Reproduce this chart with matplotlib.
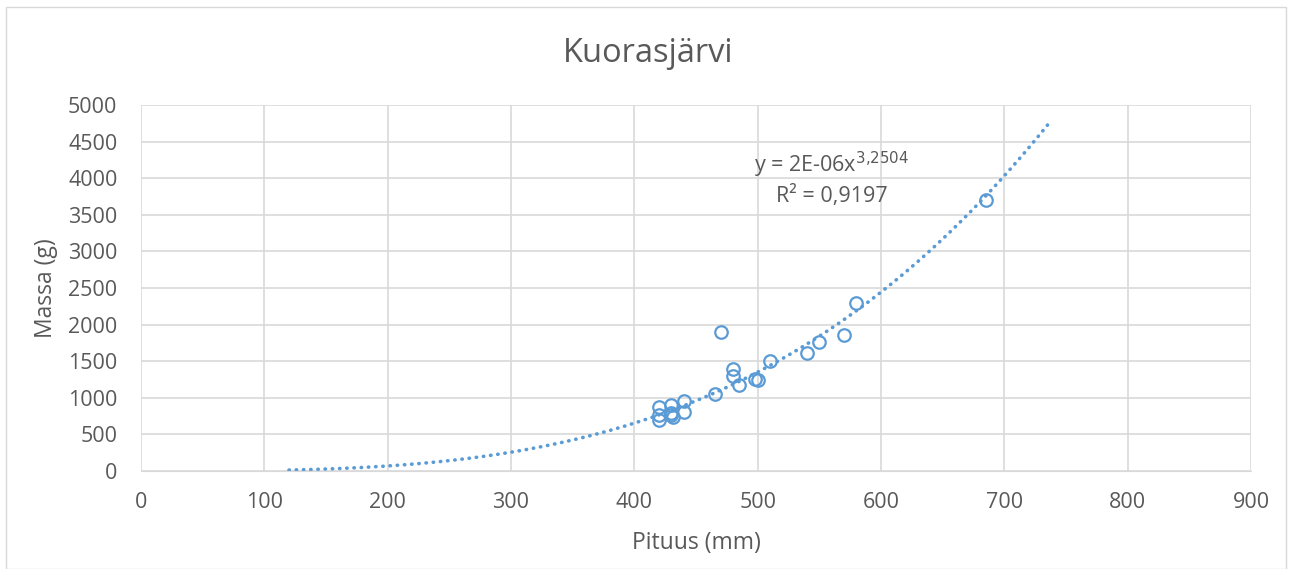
import numpy as np
import matplotlib
matplotlib.use("Agg")
import matplotlib.pyplot as plt
from matplotlib.patches import Rectangle

plt.rcParams['font.family'] = ['Open Sans', 'DejaVu Sans']

title = "Kuorasjärvi"
pituus = [470, 480, 480, 485, 498, 500, 510, 540, 550, 570, 580, 685,
          465, 440, 440, 430, 430, 431, 430, 420, 420, 420]
massa = [1900, 1400, 1300, 1170, 1260, 1250, 1500, 1610, 1760, 1860, 2300, 3700,
         1050, 955, 805, 900, 790, 740, 760, 870, 765, 700]
xticks = [0, 100, 200, 300, 400, 500, 600, 700, 800, 900]
yticks = [0, 500, 1000, 1500, 2000, 2500, 3000, 3500, 4000, 4500, 5000]
# power trendline y = a * x^b (coefficients as drawn in the chart)
trend_a = 2.28e-6
trend_b = 3.2504
trend_range = [120, 735]
eq_text = "y = 2E-06x$^{3{,}2504}$\nR² = 0,9197"

W, H = 1293, 569
fig = plt.figure(figsize=(W / 100, H / 100), dpi=100)
ax = fig.add_axes([141 / W, 1 - 471 / H, (1251 - 141) / W, (471 - 105) / H])

gray = '#595959'
gridc = '#d9d9d9'
blue = '#5B9BD5'

xt = np.linspace(trend_range[0], trend_range[1], 300)
yt = trend_a * xt ** trend_b
ax.plot(xt, yt, color=blue, lw=2.6, linestyle=(0, (0.1, 1.9)), dash_capstyle='round', zorder=2)

ax.plot(pituus, massa, 'o', mfc='none', mec=blue, mew=1.6, ms=9, zorder=3)

ax.set_xlim(0, 900)
ax.set_ylim(0, 5000)
ax.set_xticks(xticks)
ax.set_yticks(yticks)
ax.grid(True, color=gridc, lw=1.2)
ax.set_axisbelow(True)
for s in ['top', 'right', 'left']:
    ax.spines[s].set_visible(False)
ax.spines['bottom'].set_color(gridc)
ax.tick_params(length=0, labelsize=15.5, colors=gray)
ax.tick_params(axis='y', pad=17)
ax.tick_params(axis='x', pad=15)
ax.set_xlabel("Pituus (mm)", fontsize=16.5, color=gray, labelpad=13)
ax.set_ylabel("Massa (g)", fontsize=16.5, color=gray, labelpad=7)

ax.text(560, 4000, eq_text, fontsize=15.5, color=gray, ha='center', va='center', linespacing=1.3)

fig.text(648 / W, 1 - 53 / H, title, fontsize=23.5, color=gray, ha='center', va='center')

fig.patches.append(Rectangle((6 / W, 0), (1286 - 6) / W, 1 - 7 / H, transform=fig.transFigure,
                             fill=False, edgecolor=gridc, lw=1))

fig.savefig("out.png", dpi=100)
